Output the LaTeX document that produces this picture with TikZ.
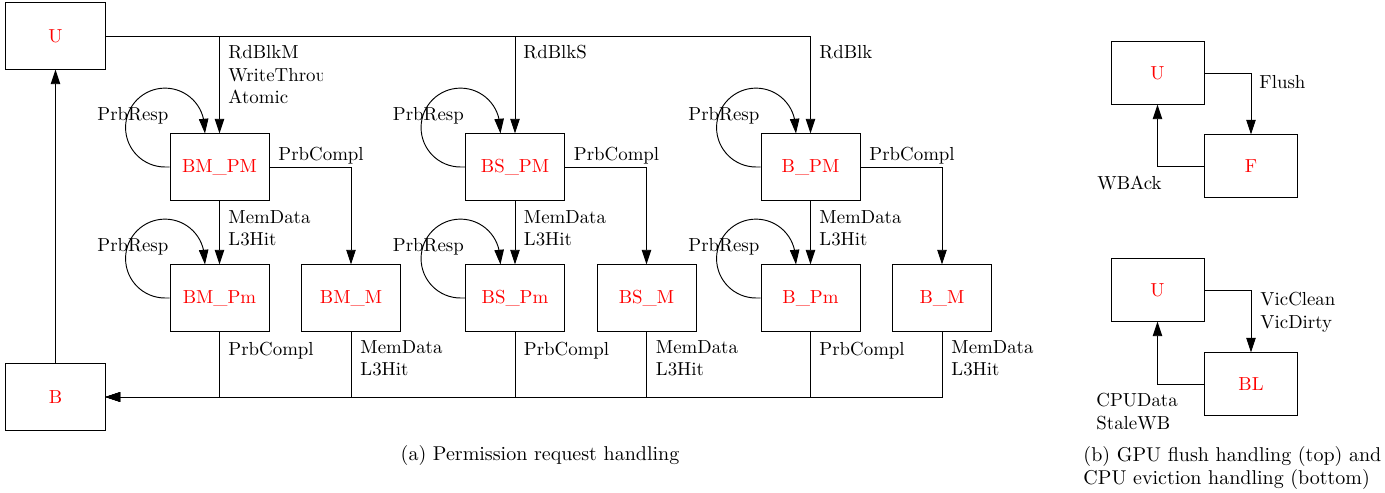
\documentclass[tikz,border=0pt]{standalone}
\usetikzlibrary{arrows.meta}

\tikzset{
  st/.style={draw, minimum width=52.5pt, minimum height=35pt, inner sep=0pt, text=red},
  sst/.style={st, minimum width=49.3pt, minimum height=32.9pt},
  lbl/.style={anchor=north west, inner sep=0pt, align=left},
}

\begin{document}
\begin{tikzpicture}[x=0.53pt, y=0.53pt, line width=0.5pt, >={Triangle[length=7.8pt,width=5pt]}]
  \useasboundingbox (0,0) rectangle (1385,493);

  % States of the request handling
  \node[st] (U) at (55.5,457) {U};
  \node[st] (B) at (55.5,96) {B};

  \node[st] (BMPM) at (219.5,326) {BM\_PM};
  \node[st] (BMPm) at (219.5,195) {BM\_Pm};
  \node[st] (BMM)  at (351,195)   {BM\_M};

  \node[st] (BSPM) at (515,326) {BS\_PM};
  \node[st] (BSPm) at (515,195) {BS\_Pm};
  \node[st] (BSM)  at (646.5,195) {BS\_M};

  \node[st] (BPM) at (810.5,326) {B\_PM};
  \node[st] (BPm) at (810.5,195) {B\_Pm};
  \node[st] (BM)  at (942,195)   {B\_M};

  % Transitions
  \draw[->] (U) -| (BMPM);
  \draw[->] (U) -| (BSPM);
  \draw[->] (U) -| (BPM);
  \draw[->] (B) -- (U);

  \foreach \a/\b/\c in {BMPM/BMPm/BMM, BSPM/BSPm/BSM, BPM/BPm/BM} {
    \draw[->] (\a) -- (\b);
    \draw[->] (\a) -| (\c);
    \draw[->] (\b) |- (B);
    \draw[->] (\c) |- (B);
  }

  % Self loops
  \foreach \n in {BMPM,BMPm,BSPM,BSPm,BPM,BPm}
    \draw[->] (\n.west) -- ++(-4.5,0) arc[start angle=270, end angle=0, radius=20.9pt] -- ([xshift=-7.7pt]\n.north);

  % Labels
  \begin{scope}
    \clip (220,380) rectangle (322,470);
    \node[lbl] (lRdBlkM) at (228,448) {RdBlkM\\WriteThrough\\Atomic};
  \end{scope}
  \node[lbl] (lRdBlkS) at (523,448) {RdBlkS};
  \node[lbl] (lRdBlk)  at (819,448) {RdBlk};

  \foreach \x [count=\i] in {0,295.5,591} {
    \node[lbl] (lPrbResp\i)  at (97+\x,386)  {PrbResp};
    \node[lbl] (lPrbRespm\i) at (97+\x,255)  {PrbResp};
    \node[lbl] (lPrbCompl\i) at (278+\x,346) {PrbCompl};
    \node[lbl] (lMemData\i)  at (228+\x,283) {MemData\\L3Hit};
    \node[lbl] (lPrbComplm\i) at (228+\x,151) {PrbCompl};
    \node[lbl] (lMemDatam\i) at (360+\x,153) {MemData\\L3Hit};
  }

  \node[anchor=north, inner sep=0pt, font=\fontsize{10.6pt}{12.2pt}\selectfont] (capA) at (540,48)
    {(a) Permission request handling};

  % GPU flush handling
  \node[sst] (U1) at (1157.5,420) {U};
  \node[sst] (F)  at (1251,327)   {F};
  \draw[->] (U1) -| (F);
  \draw[->] (F) -| (U1);
  \node[lbl] (lFlush) at (1259,418) {Flush};
  \node[lbl] (lWBAck) at (1097,317) {WBAck};

  % CPU eviction handling
  \node[sst] (U2) at (1157.5,203) {U};
  \node[sst] (BL) at (1251,109)   {BL};
  \draw[->] (U2) -| (BL);
  \draw[->] (BL) -| (U2);
  \node[lbl] (lVic) at (1260,201) {VicClean\\VicDirty};
  \node[lbl] (lCPU) at (1096,100) {CPUData\\StaleWB};

  \node[lbl, font=\fontsize{10.6pt}{12.2pt}\selectfont] (capB) at (1083,47)
    {(b) GPU flush handling (top) and\\CPU eviction handling (bottom)};
\end{tikzpicture}
\end{document}
